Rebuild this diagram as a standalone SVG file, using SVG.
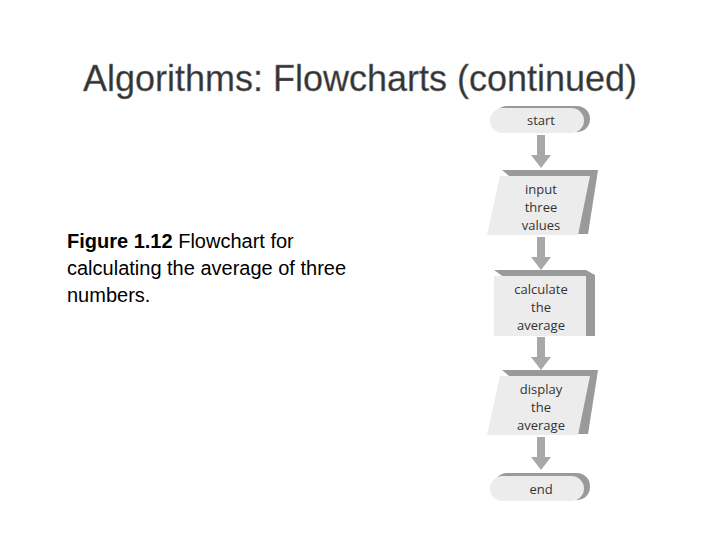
<svg xmlns="http://www.w3.org/2000/svg" width="720" height="540" viewBox="0 0 720 540">
<style>
.t{font-family:"Liberation Sans",Arial,sans-serif}
.n{font-family:"Open Sans","DejaVu Sans",sans-serif;font-size:13px;fill:#333;text-anchor:middle}
.f{fill:#ececec}
.s{fill:#9a9a9a}
.a{fill:#a8a8a8}
</style>
<defs>
<path id="arr" d="M-4,0 H4 V20 H10 L0,33 L-10,20 H-4 Z"/>
</defs>
<rect width="720" height="540" fill="#fff"/>
<text class="t" x="360" y="91" font-size="36" text-anchor="middle" fill="#333" stroke="#888" stroke-width="0.4">Algorithms: Flowcharts (continued)</text>
<text class="t" font-size="20" fill="#000"><tspan x="67" y="248"><tspan font-weight="bold">Figure 1.12</tspan>  Flowchart for</tspan><tspan x="67" y="275">calculating the average of three</tspan><tspan x="67" y="302">numbers.</tspan></text>
<g id="connectors">
<use href="#arr" x="541" y="135" class="a"/>
<use href="#arr" x="541" y="237" class="a"/>
<use href="#arr" x="541" y="337" class="a"/>
<use href="#arr" x="541" y="437" class="a"/>
</g>
<g id="start">
<rect x="494" y="106" width="96" height="26" rx="13" class="s"/>
<rect x="490" y="108" width="94" height="25" rx="12.5" class="f"/>
<text class="n" x="541" y="125">start</text>
</g>
<g id="input">
<polygon points="502,170 598,170 588,234 578,234" class="s"/>
<polygon points="500,176 590,176 578,235 487,235" class="f"/>
<text class="n"><tspan x="541" y="194">input</tspan><tspan x="541" y="212">three</tspan><tspan x="541" y="230">values</tspan></text>
</g>
<g id="calc">
<polygon points="494,270 586,270 595,275 595,336 586,336" class="s"/>
<rect x="494" y="276" width="92" height="60" class="f"/>
<text class="n"><tspan x="541" y="294">calculate</tspan><tspan x="541" y="312">the</tspan><tspan x="541" y="330">average</tspan></text>
</g>
<g id="display">
<polygon points="502,370 598,370 588,434 578,434" class="s"/>
<polygon points="500,376 590,376 578,435 487,435" class="f"/>
<text class="n"><tspan x="541" y="394">display</tspan><tspan x="541" y="412">the</tspan><tspan x="541" y="430">average</tspan></text>
</g>
<g id="end">
<rect x="494" y="473" width="96" height="27" rx="13" class="s"/>
<rect x="490" y="476" width="94" height="25" rx="12.5" class="f"/>
<text class="n" x="541" y="494">end</text>
</g>
</svg>
